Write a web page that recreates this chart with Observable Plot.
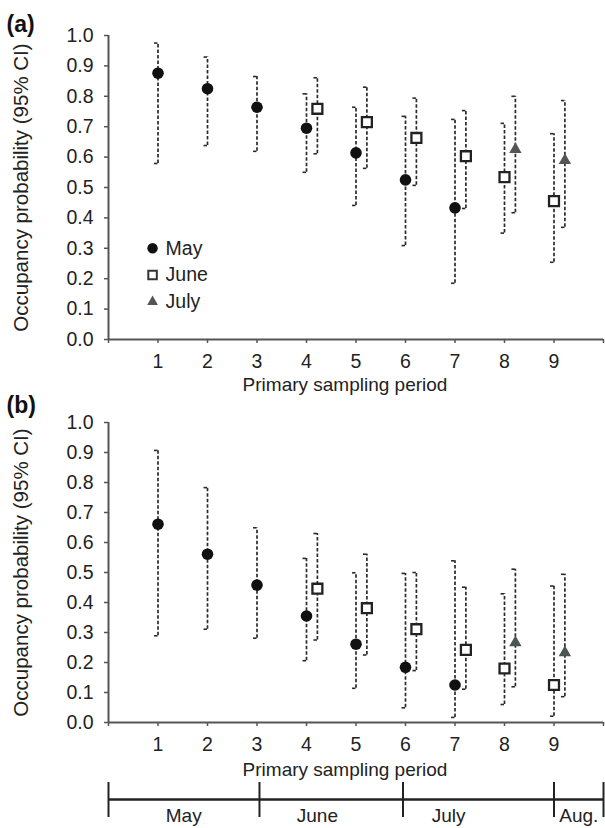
<!DOCTYPE html>
<html>
<head>
<meta charset="utf-8">
<script src="https://cdn.jsdelivr.net/npm/d3@7"></script>
<script src="https://cdn.jsdelivr.net/npm/@observablehq/plot@0.6"></script>
<style>
  html, body { margin: 0; padding: 0; background: #ffffff; }
  #chart { width: 605px; }
  #chart svg { display: block; }
</style>
</head>
<body>
<div id="chart"></div>
<script>
// ---------- data ----------
const months = ["May", "June", "July"];
const xTicks = [0, 1, 2, 3, 4, 5, 6, 7, 8, 9, 10];
const xTickLabels = ["", "1", "2", "3", "4", "5", "6", "7", "8", "9", ""];
const yTicks = [0, 0.1, 0.2, 0.3, 0.4, 0.5, 0.6, 0.7, 0.8, 0.9, 1.0];

const mayPeriods = [1, 2, 3, 4, 5, 6, 7];
const junePeriods = [4, 5, 6, 7, 8, 9];
const julyPeriods = [8, 9];

// Panel (a)
const mayA_est = [0.876, 0.825, 0.764, 0.695, 0.614, 0.525, 0.433];
const mayA_lo  = [0.579, 0.638, 0.619, 0.550, 0.441, 0.309, 0.185];
const mayA_hi  = [0.975, 0.929, 0.865, 0.808, 0.764, 0.734, 0.724];
const juneA_est = [0.759, 0.715, 0.663, 0.603, 0.534, 0.455];
const juneA_lo  = [0.611, 0.563, 0.507, 0.431, 0.350, 0.254];
const juneA_hi  = [0.861, 0.830, 0.794, 0.753, 0.711, 0.677];
const julyA_est = [0.625, 0.589];
const julyA_lo  = [0.417, 0.369];
const julyA_hi  = [0.800, 0.786];

// Panel (b)
const mayB_est = [0.661, 0.561, 0.458, 0.355, 0.261, 0.184, 0.125];
const mayB_lo  = [0.289, 0.311, 0.281, 0.206, 0.114, 0.049, 0.017];
const mayB_hi  = [0.907, 0.783, 0.649, 0.547, 0.499, 0.497, 0.539];
const juneB_est = [0.446, 0.381, 0.311, 0.242, 0.180, 0.125];
const juneB_lo  = [0.275, 0.225, 0.173, 0.111, 0.060, 0.021];
const juneB_hi  = [0.630, 0.561, 0.500, 0.451, 0.429, 0.455];
const julyB_est = [0.266, 0.233];
const julyB_lo  = [0.119, 0.086];
const julyB_hi  = [0.511, 0.494];

// Month timeline under panel (b)
const monthNames = ["May", "June", "July", "Aug."];
const monthBoundaries = [0, 3.05, 5.95, 9, 10];
const monthLabelPos = [1.52, 4.22, 6.87, 9.5];

const yLabel = "Occupancy probability (95% CI)";
const xLabel = "Primary sampling period";

// ---------- build rows ----------
const periodsByMonth = {May: mayPeriods, June: junePeriods, July: julyPeriods};
const SHIFT = 0.22;
function rows(month, est, lo, hi) {
  const periods = periodsByMonth[month];
  const mi = months.indexOf(month);
  return periods.map((p, i) => {
    const hasEarlier = months.slice(0, mi).some(m => periodsByMonth[m].includes(p));
    return {month, period: p, xpos: p + (hasEarlier ? SHIFT : 0), est: est[i], lo: lo[i], hi: hi[i]};
  });
}
const dataA = [
  ...rows("May", mayA_est, mayA_lo, mayA_hi),
  ...rows("June", juneA_est, juneA_lo, juneA_hi),
  ...rows("July", julyA_est, julyA_lo, julyA_hi)
];
const dataB = [
  ...rows("May", mayB_est, mayB_lo, mayB_hi),
  ...rows("June", juneB_est, juneB_lo, juneB_hi),
  ...rows("July", julyB_est, julyB_lo, julyB_hi)
];

const FONT = "'Liberation Sans', Arial, Helvetica, sans-serif";
const CAP = 0.07;

function dotMarks(data, triFill) {
  return [
    Plot.ruleX(data, {x: "xpos", y1: "lo", y2: "hi", stroke: "#2a2a2a", strokeWidth: 1.7, strokeDasharray: "3.5,2"}),
    Plot.ruleY(data, {y: "hi", x1: d => d.xpos - CAP, x2: "xpos", stroke: "#2a2a2a", strokeWidth: 1.6}),
    Plot.ruleY(data, {y: "lo", x1: d => d.xpos - CAP, x2: "xpos", stroke: "#2a2a2a", strokeWidth: 1.6}),
    Plot.dot(data.filter(d => d.month === "May"), {x: "xpos", y: "est", symbol: "circle", r: 5.8, fill: "#111", stroke: "none"}),
    Plot.dot(data.filter(d => d.month === "June"), {x: "xpos", y: "est", symbol: "square", r: 5.6, fill: "#fff", stroke: "#222", strokeWidth: 2.3}),
    Plot.dot(data.filter(d => d.month === "July"), {x: "xpos", y: "est", symbol: "triangle", r: 4.6, fill: triFill, stroke: "none"})
  ];
}

function axesMarks() {
  return [
    Plot.axisY(yTicks, {tickSize: 4, tickPadding: 11, tickFormat: d => d.toFixed(1), fontSize: 19.5, color: "#222", stroke: "#555", strokeWidth: 1.5, label: null}),
    Plot.axisX(xTicks, {tickSize: 4, tickPadding: 11, tickFormat: (d, i) => xTickLabels[i], fontSize: 19.5, color: "#222", stroke: "#555", strokeWidth: 1.5, label: null}),
    Plot.ruleX([0], {stroke: "#555", strokeWidth: 2}),
    Plot.ruleY([0], {stroke: "#555", strokeWidth: 2})
  ];
}

function panel(data, letter, opts) {
  return Plot.plot({
    width: 605,
    height: opts.height,
    marginLeft: 108,
    marginRight: 2,
    marginTop: opts.marginTop,
    marginBottom: opts.marginBottom,
    x: {domain: [0, 10], axis: null},
    y: {domain: [0, 1], axis: null},
    style: {fontFamily: FONT, fontSize: "19px", color: "#222", background: "transparent", overflow: "visible"},
    marks: [
      ...axesMarks(),
      ...dotMarks(data, opts.triFill),
      Plot.text([yLabel], {frameAnchor: "left", rotate: -90, dx: -87, textAnchor: "middle", lineAnchor: "middle", fontSize: 20.5, fill: "#222"}),
      Plot.text([xLabel], {frameAnchor: "bottom", dx: -11, dy: opts.xLabelDy, textAnchor: "middle", lineAnchor: "middle", fontSize: 19, fill: "#222"}),
      Plot.text([letter], {frameAnchor: "top-left", dx: -102, dy: opts.letterDy, textAnchor: "start", lineAnchor: "bottom", fontSize: 23, fontWeight: "bold", fill: "#111"}),
      ...(opts.legend ? legendMarks() : [])
    ]
  });
}

function legendMarks() {
  const items = months.map((m, i) => ({m, x: 0.89, y: 0.30 - i * 0.088}));
  return [
    Plot.dot(items.filter(d => d.m === "May"), {x: "x", y: "y", symbol: "circle", r: 5.2, fill: "#111"}),
    Plot.dot(items.filter(d => d.m === "June"), {x: "x", y: "y", symbol: "square", r: 4.8, fill: "#fff", stroke: "#333", strokeWidth: 2}),
    Plot.dot(items.filter(d => d.m === "July"), {x: "x", y: "y", symbol: "triangle", r: 4, fill: "#555"}),
    Plot.text(items, {x: "x", y: "y", text: "m", dx: 13, textAnchor: "start", lineAnchor: "middle", fontSize: 19.5, fill: "#222"})
  ];
}

const chart = document.getElementById("chart");

chart.appendChild(panel(dataA, "(a)", {height: 395, marginTop: 35, marginBottom: 56, xLabelDy: 45, letterDy: -4, triFill: "#555", legend: true}));
chart.appendChild(panel(dataB, "(b)", {height: 385, marginTop: 27, marginBottom: 58, xLabelDy: 47, letterDy: -10, triFill: "#4a5656", legend: false}));

// timeline
chart.appendChild(Plot.plot({
  width: 605,
  height: 48,
  marginLeft: 108,
  marginRight: 2,
  marginTop: 0,
  marginBottom: 0,
  x: {domain: [0, 10], axis: null},
  y: {type: "identity", axis: null},
  style: {fontFamily: FONT, fontSize: "19px", color: "#222", background: "transparent", overflow: "visible"},
  marks: [
    Plot.ruleY([19], {x1: d3.min(monthBoundaries), x2: d3.max(monthBoundaries), stroke: "#222", strokeWidth: 2.5}),
    Plot.ruleX(monthBoundaries, {y1: 2, y2: 37, stroke: "#222", strokeWidth: 2}),
    Plot.text(monthNames, {x: (d, i) => monthLabelPos[i], y: 35, textAnchor: "middle", lineAnchor: "middle", fontSize: 19, fill: "#222"})
  ]
}));
</script>
</body>
</html>
